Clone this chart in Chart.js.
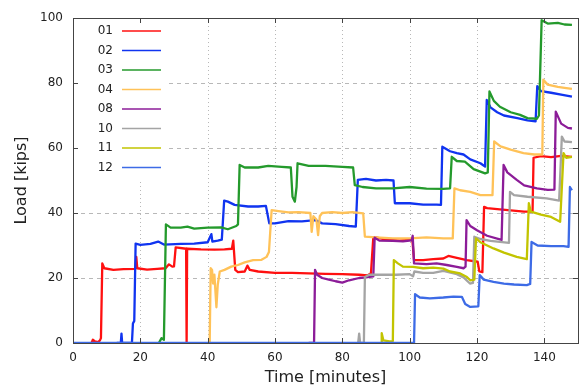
<!DOCTYPE html>
<html>
<head>
<meta charset="utf-8">
<title>Load vs time</title>
<script src="https://cdn.jsdelivr.net/npm/chart.js@4.4.1/dist/chart.umd.min.js"></script>
<style>
  html, body { margin: 0; padding: 0; background: #fff; }
  #wrap { width: 585px; height: 387px; position: relative; }
</style>
</head>
<body>
<div id="wrap"><canvas id="loadChart"></canvas></div>
<script>
// --- values: [time (minutes), load (kips)] ---
const load01 = [[5.5,0],[5.9,1.0],[6.5,0.5],[7.5,0.3],[8.0,0.8],[8.3,1.5],[8.7,24.5],[9.3,23.0],[12,22.5],[15,22.7],[18.5,22.8],[18.8,26.5],[19.1,23],[22,22.6],[25,22.8],[27.5,23],[28.5,24.2],[29.5,23.5],[30.0,23.6],[30.5,29.4],[33.6,29],[33.75,0],[33.9,29],[38,28.8],[42,28.7],[45,28.8],[47.2,29],[47.6,31.5],[48.2,22.5],[49,21.8],[51,22],[51.8,23.8],[52.5,22.5],[55,22],[60,21.6],[65,21.6],[70,21.4],[75,21.3],[80,21.2],[85,21],[87.5,20.8],[88.5,21.5],[89.2,32.4],[90,32.5],[93,31.8],[97,31.5],[100.8,31.8],[101.3,25.5],[104,25.5],[107,25.8],[110,26],[111.5,26.8],[114,26.2],[117,25.5],[120.2,25],[120.7,22],[121.6,21.8],[122.1,41.9],[123,41.5],[126,41.2],[130,40.8],[134,40.4],[136.5,40.4],[136.8,57],[139,57.5],[142,57.2],[145,57.6],[148.2,57.3]];
const load02 = [[13,0],[14.2,0],[14.4,2.9],[14.6,0],[17.5,0],[17.8,6],[18.2,6.8],[18.6,30.6],[20,30.2],[23,30.5],[25.3,31.2],[27,30.3],[32,30.5],[36,30.6],[40,31],[41.1,33.5],[41.4,31.2],[43,31.5],[44.2,31.8],[44.9,43.8],[46,43.5],[48,42.5],[52,42],[55,42],[57.3,42.2],[58.3,36.8],[60,36.8],[64,37.5],[68,37.4],[72,37.8],[74,36.8],[78,36.6],[82,36],[84,35.8],[84.6,50.2],[87,50.5],[90,50],[93,50.2],[95.2,50],[95.6,43],[100,43],[104,42.6],[108,42.6],[109.3,42.5],[109.7,60.4],[112,59],[114,58.4],[116,58],[118,56.5],[121,55.3],[122.4,54.3],[122.9,74.8],[124,72.5],[126,71],[128,70],[132,69.2],[135,68.5],[137.4,68.2],[137.9,79],[139,77.5],[142,77],[145,76.4],[148.2,75.8]];
const load03 = [[25.5,0],[26.3,1.5],[27,1],[27.6,36.5],[29,35.5],[32,35.5],[34,35.8],[36,35.2],[40,35.5],[44,35.6],[46,35],[48.5,36],[49.0,36.5],[49.5,54.8],[51,54],[55,54],[58,54.5],[62,54.2],[64.7,54],[65.2,45],[65.9,43.5],[66.4,48],[66.7,55.3],[70,54.5],[75,54.5],[80,54.2],[83.2,54],[83.7,48.6],[86,48],[90,47.6],[95,47.6],[100,48],[105,47.5],[110,47.4],[112,47.6],[112.5,57.3],[114,56],[116.4,55.8],[119,53.5],[122.4,52.2],[123.2,52.5],[123.7,77.4],[125,74.5],[126.8,72.7],[130,71],[132.8,70.2],[135,69.2],[137.8,69],[138.4,70],[139.2,99.3],[141,98.3],[144,98.5],[146,98],[148.2,97.9]];
const load04 = [[40.6,0],[40.9,23],[41.3,22.5],[41.6,18.3],[42.0,21],[42.6,11],[43.0,18],[43.6,22],[45,22.5],[47,23.5],[49,24],[51,24.8],[53.5,25.5],[56,25.6],[57.5,26.5],[58.2,28],[59,40.9],[61,40.6],[64,40.2],[67,40.3],[70.5,40],[70.9,34.2],[71.4,39],[72.3,38],[72.8,33.2],[73.3,39],[74,40],[77,40.3],[80,40],[83,40.3],[86.2,39.9],[86.7,32.7],[90,32.5],[95,32.2],[100,32.2],[105,32.5],[110,32.2],[112.8,32.2],[113.3,47.6],[115,47],[118,46.5],[121,45.5],[124.6,45.5],[125.1,62],[127,60.5],[130,59.5],[133.8,58.4],[137,58],[139.4,58],[139.7,81],[141,79.5],[144,78.8],[146,78.5],[148.2,78.2]];
const load08 = [[70,0],[71.6,0],[71.9,22.5],[72.5,21],[74,20],[76,19.5],[78,19],[80,18.6],[82,19.3],[85,20],[87,20.2],[89.2,20.5],[89.6,32.4],[91,31.5],[95,31.4],[98,31.3],[100.6,31.6],[100.9,33],[101.3,24.5],[105,24.3],[108,24.5],[111,24],[114,23.4],[116,23],[116.6,23.5],[116.9,37.8],[118,36],[120,34.7],[123,33],[127.3,31.7],[127.9,54.8],[129,52.5],[131.8,50.2],[134,48.5],[137.8,47.6],[141,47.1],[143,47.2],[143.4,71.2],[145,67.5],[147,66.2],[148.2,66]];
const load10 = [[84.7,0],[85,2.9],[85.3,0],[86.4,0],[86.7,20.3],[88,21],[92,21],[96,21],[100,21.2],[101,20.5],[101.4,22],[104,21.6],[107,21.6],[110,22.2],[114,21.2],[116,20.2],[117.9,18.3],[118.8,18.5],[119.2,32.7],[121,32],[124,31.4],[126.8,31.1],[129.5,30.8],[129.8,46.5],[131,45.5],[135,45],[140.7,44.5],[144.4,43.8],[145.2,63.5],[146,62],[148.2,61.8]];
const load11 = [[91.5,0],[91.7,3],[92.2,0.8],[94,0.5],[95,0.6],[95.3,25.5],[96.5,24.5],[98,23.5],[101,23.4],[104,23],[107,23.2],[110,22.9],[112,22],[115,21.4],[117,20.3],[118,19.3],[119.2,19.5],[119.7,32.2],[121,31],[124.9,29.1],[128,27.8],[131.8,26.5],[134.8,25.8],[135.4,43],[136,40.4],[139,39.5],[142,38.8],[144.7,37.3],[145.7,58.4],[146.5,57],[148.2,57.3]];
const load12 = [[0,0],[101.3,0],[101.6,15],[103,14],[106,13.7],[110,14],[113,14.3],[115.5,14.2],[116.5,12],[118,11.1],[120.4,11.3],[120.8,20.9],[122,19.5],[124.9,18.8],[128,18.3],[131,18],[134.8,17.8],[135.8,18.2],[136.2,31.1],[138,30],[142,29.8],[145.7,29.8],[147.2,29.6],[147.6,48],[148.2,47]];

const seriesNames = ['01', '02', '03', '04', '08', '10', '11', '12'];
const seriesData = [load01, load02, load03, load04, load08, load10, load11, load12];
const seriesColors = ['#ff1010', '#1034f0', '#249a2c', '#ffc258', '#8c1c98', '#a4a4a4', '#c2c400', '#3d6be6'];

const xTicks = [0, 20, 40, 60, 80, 100, 120, 140];
const yTicks = [0, 20, 40, 60, 80, 100];

const FONT = '"DejaVu Sans", Verdana, sans-serif';

// gnuplot-like frame: dashed/dotted grid, keyed legend box, inward tick marks
const gnuplotFrame = {
    id: 'gnuplotFrame',
    beforeDatasetsDraw(chart) {
        const { ctx, chartArea: a, scales: { x, y } } = chart;
        ctx.save();
        ctx.strokeStyle = '#b8b8b8';
        ctx.lineWidth = 1;

        ctx.setLineDash([4, 4]);
        yTicks.forEach(v => {
            if (v <= 0 || v >= 100) return;
            const py = Math.round(y.getPixelForValue(v)) + 0.5;
            ctx.beginPath(); ctx.moveTo(a.left, py); ctx.lineTo(a.right, py); ctx.stroke();
        });
        ctx.setLineDash([1, 3]);
        xTicks.forEach(v => {
            if (v <= 0) return;
            const px = Math.round(x.getPixelForValue(v)) + 0.5;
            ctx.beginPath(); ctx.moveTo(px, a.top); ctx.lineTo(px, a.bottom); ctx.stroke();
        });
        ctx.setLineDash([]);

        // legend: label first, then a line sample
        ctx.fillStyle = '#fff';
        ctx.fillRect(a.left + 1, a.top + 1, 95, 160);
        ctx.font = '12px ' + FONT;
        ctx.textAlign = 'right';
        ctx.textBaseline = 'middle';
        chart.data.datasets.forEach((ds, i) => {
            const ly = a.top + 13 + i * 19.5;
            ctx.fillStyle = '#222';
            ctx.fillText(ds.label, a.left + 40, ly);
            ctx.strokeStyle = ds.borderColor;
            ctx.lineWidth = 1.6;
            ctx.beginPath(); ctx.moveTo(a.left + 49, ly); ctx.lineTo(a.left + 88, ly); ctx.stroke();
        });
        ctx.restore();
    },
    afterDatasetsDraw(chart) {
        const { ctx, chartArea: a, scales: { x, y } } = chart;
        ctx.save();
        ctx.strokeStyle = '#444';
        ctx.lineWidth = 1;
        ctx.strokeRect(Math.round(a.left) + 0.5, Math.round(a.top) + 0.5,
            Math.round(a.right - a.left), Math.round(a.bottom - a.top));
        const tl = 5;
        ctx.beginPath();
        xTicks.forEach(v => {
            const px = Math.round(x.getPixelForValue(v)) + 0.5;
            ctx.moveTo(px, a.bottom); ctx.lineTo(px, a.bottom - tl);
            ctx.moveTo(px, a.top); ctx.lineTo(px, a.top + tl);
        });
        yTicks.forEach(v => {
            const py = Math.round(y.getPixelForValue(v)) + 0.5;
            ctx.moveTo(a.left, py); ctx.lineTo(a.left + tl, py);
            ctx.moveTo(a.right, py); ctx.lineTo(a.right - tl, py);
        });
        ctx.stroke();
        ctx.restore();
    }
};

const datasets = seriesNames.map((name, i) => ({
    label: name,
    data: seriesData[i].map(p => ({ x: p[0], y: p[1] })),
    borderColor: seriesColors[i],
    borderWidth: 2.3,
    borderJoinStyle: 'round',
    pointRadius: 0,
    tension: 0,
    fill: false,
    order: seriesNames.length - i // later series drawn on top
}));

new Chart(document.getElementById('loadChart'), {
    type: 'line',
    data: { datasets },
    options: {
        responsive: true,
        maintainAspectRatio: false,
        devicePixelRatio: 1,
        animation: false,
        layout: { padding: { top: 18, right: 7, left: 0, bottom: 0 } },
        plugins: {
            legend: { display: false },
            tooltip: { enabled: false }
        },
        scales: {
            x: {
                type: 'linear',
                min: 0,
                max: 150,
                afterBuildTicks: scale => { scale.ticks = xTicks.map(v => ({ value: v })); },
                afterFit: scale => { scale.height = 44; },
                grid: { display: false, drawTicks: false },
                border: { display: false },
                ticks: { color: '#222', font: { family: FONT, size: 12 }, padding: 8, maxRotation: 0 },
                title: {
                    display: true,
                    text: 'Time [minutes]',
                    color: '#222',
                    font: { family: FONT, size: 16 },
                    padding: { top: 0, bottom: 0 }
                }
            },
            y: {
                min: 0,
                max: 100,
                afterBuildTicks: scale => { scale.ticks = yTicks.map(v => ({ value: v })); },
                afterFit: scale => { scale.width = 73; },
                grid: { display: false, drawTicks: false },
                border: { display: false },
                ticks: { color: '#222', font: { family: FONT, size: 12 }, padding: 10 },
                title: {
                    display: true,
                    text: 'Load [kips]',
                    color: '#222',
                    font: { family: FONT, size: 16 },
                    padding: { top: 12, bottom: 0 }
                }
            }
        }
    },
    plugins: [gnuplotFrame]
});
</script>
</body>
</html>
